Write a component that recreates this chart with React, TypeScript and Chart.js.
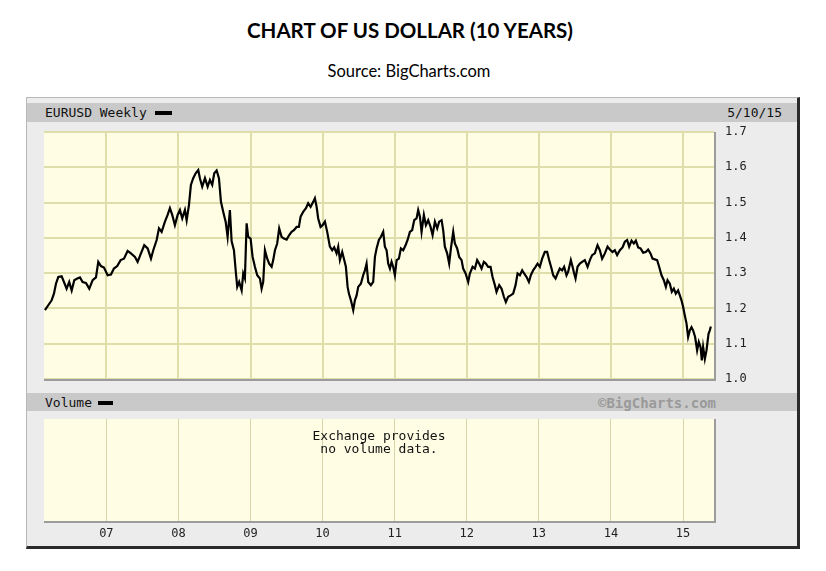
import React, { useEffect, useRef } from "react";
import { Chart, registerables } from "chart.js";
Chart.register(...registerables);

// Weekly EUR/USD closes (dates as decimal years)
const dates: number[] = [
  2006.148, 2006.194, 2006.241, 2006.273, 2006.301, 2006.333, 2006.38, 2006.412, 2006.449, 2006.485, 2006.519, 2006.555, 2006.596, 2006.634, 2006.671, 2006.717, 2006.763, 2006.81, 2006.856, 2006.888, 2006.925, 2006.967,
  2007.018, 2007.064, 2007.105, 2007.151, 2007.198, 2007.244, 2007.295, 2007.341, 2007.397, 2007.434, 2007.48, 2007.526, 2007.573, 2007.619, 2007.651, 2007.698, 2007.73, 2007.767, 2007.813, 2007.85, 2007.882, 2007.914, 2007.951, 2007.989,
  2008.021, 2008.053, 2008.09, 2008.114, 2008.146, 2008.173, 2008.205, 2008.239, 2008.275, 2008.298, 2008.33, 2008.368, 2008.405, 2008.437, 2008.469, 2008.497, 2008.53, 2008.562, 2008.59, 2008.621, 2008.655, 2008.682, 2008.714, 2008.738, 2008.77, 2008.798, 2008.816, 2008.843, 2008.877, 2008.899, 2008.922, 2008.946, 2008.968,
  2009.001, 2009.029, 2009.061, 2009.093, 2009.13, 2009.154, 2009.176, 2009.2, 2009.232, 2009.259, 2009.293, 2009.315, 2009.339, 2009.37, 2009.398, 2009.431, 2009.463, 2009.501, 2009.537, 2009.57, 2009.602, 2009.64, 2009.671, 2009.695, 2009.731, 2009.769, 2009.8, 2009.834, 2009.87, 2009.893, 2009.917, 2009.939, 2009.972,
  2010.0, 2010.032, 2010.064, 2010.101, 2010.133, 2010.161, 2010.194, 2010.217, 2010.24, 2010.272, 2010.3, 2010.323, 2010.347, 2010.365, 2010.393, 2010.425, 2010.448, 2010.472, 2010.494, 2010.531, 2010.563, 2010.587, 2010.61, 2010.633, 2010.67, 2010.702, 2010.726, 2010.749, 2010.781, 2010.809, 2010.841, 2010.864, 2010.888, 2010.91, 2010.934, 2010.957, 2010.979,
  2011.003, 2011.027, 2011.058, 2011.086, 2011.118, 2011.151, 2011.179, 2011.211, 2011.243, 2011.271, 2011.304, 2011.326, 2011.35, 2011.373, 2011.405, 2011.433, 2011.465, 2011.498, 2011.526, 2011.558, 2011.59, 2011.617, 2011.651, 2011.673, 2011.696, 2011.728, 2011.756, 2011.78, 2011.812, 2011.835, 2011.867, 2011.895, 2011.928, 2011.95, 2011.984,
  2012.02, 2012.043, 2012.081, 2012.113, 2012.144, 2012.172, 2012.205, 2012.237, 2012.265, 2012.297, 2012.33, 2012.358, 2012.39, 2012.413, 2012.45, 2012.483, 2012.515, 2012.542, 2012.574, 2012.608, 2012.644, 2012.677, 2012.705, 2012.737, 2012.769, 2012.796, 2012.83, 2012.862, 2012.889, 2012.921, 2012.954, 2012.982,
  2013.014, 2013.046, 2013.083, 2013.115, 2013.143, 2013.176, 2013.199, 2013.232, 2013.26, 2013.291, 2013.323, 2013.351, 2013.384, 2013.407, 2013.444, 2013.468, 2013.49, 2013.509, 2013.537, 2013.569, 2013.601, 2013.638, 2013.676, 2013.708, 2013.739, 2013.777, 2013.814, 2013.846, 2013.878, 2013.916, 2013.953, 2013.985,
  2014.022, 2014.054, 2014.086, 2014.124, 2014.161, 2014.193, 2014.225, 2014.253, 2014.286, 2014.318, 2014.346, 2014.378, 2014.411, 2014.447, 2014.484, 2014.516, 2014.549, 2014.577, 2014.609, 2014.641, 2014.669, 2014.702, 2014.734, 2014.762, 2014.785, 2014.817, 2014.845, 2014.873, 2014.9, 2014.932, 2014.956, 2014.979,
  2015.002, 2015.025, 2015.049, 2015.071, 2015.095, 2015.118, 2015.14, 2015.168, 2015.196, 2015.219, 2015.243, 2015.261, 2015.279, 2015.303, 2015.326, 2015.354, 2015.372, 2015.386,
];

const eurusd: number[] = [
  1.195, 1.209, 1.223, 1.242, 1.27, 1.289, 1.291, 1.275, 1.256, 1.275, 1.251, 1.28, 1.285, 1.288, 1.275, 1.272, 1.256, 1.28, 1.288, 1.332, 1.32, 1.316,
  1.294, 1.296, 1.313, 1.32, 1.337, 1.341, 1.363, 1.356, 1.346, 1.332, 1.356, 1.379, 1.37, 1.341, 1.365, 1.394, 1.427, 1.417, 1.446, 1.465, 1.484, 1.465, 1.436, 1.465,
  1.479, 1.455, 1.479, 1.45, 1.493, 1.55, 1.569, 1.583, 1.592, 1.569, 1.545, 1.569, 1.545, 1.564, 1.55, 1.583, 1.591, 1.569, 1.502, 1.474, 1.446, 1.403, 1.479, 1.39, 1.365, 1.299, 1.261, 1.275, 1.251, 1.299, 1.285, 1.441, 1.403,
  1.398, 1.346, 1.318, 1.294, 1.285, 1.256, 1.275, 1.365, 1.341, 1.327, 1.318, 1.337, 1.365, 1.384, 1.427, 1.403, 1.398, 1.395, 1.408, 1.417, 1.422, 1.431, 1.431, 1.46, 1.474, 1.484, 1.498, 1.488, 1.502, 1.512, 1.488, 1.455, 1.431,
  1.436, 1.446, 1.417, 1.375, 1.365, 1.373, 1.356, 1.375, 1.337, 1.36, 1.337, 1.318, 1.261, 1.242, 1.223, 1.195, 1.223, 1.237, 1.261, 1.27, 1.294, 1.308, 1.327, 1.275, 1.266, 1.275, 1.346, 1.37, 1.394, 1.403, 1.417, 1.375, 1.365, 1.327, 1.313, 1.332, 1.318,
  1.294, 1.337, 1.341, 1.37, 1.365, 1.379, 1.394, 1.417, 1.422, 1.45, 1.455, 1.479, 1.46, 1.417, 1.465, 1.436, 1.45, 1.431, 1.408, 1.446, 1.427, 1.446, 1.45, 1.422, 1.375, 1.356, 1.327, 1.37, 1.417, 1.384, 1.37, 1.346, 1.337, 1.313, 1.299,
  1.275, 1.299, 1.318, 1.313, 1.337, 1.327, 1.313, 1.332, 1.327, 1.318, 1.318, 1.289, 1.266, 1.247, 1.266, 1.256, 1.233, 1.218, 1.233, 1.237, 1.242, 1.266, 1.299, 1.294, 1.308, 1.299, 1.289, 1.275, 1.294, 1.308, 1.318, 1.327,
  1.318, 1.341, 1.36, 1.36, 1.337, 1.313, 1.294, 1.285, 1.299, 1.313, 1.308, 1.318, 1.294, 1.304, 1.337, 1.318, 1.299, 1.285, 1.318, 1.327, 1.332, 1.337, 1.318, 1.337, 1.351, 1.356, 1.379, 1.365, 1.341, 1.356, 1.375, 1.367,
  1.36, 1.365, 1.351, 1.365, 1.373, 1.389, 1.394, 1.375, 1.392, 1.384, 1.392, 1.373, 1.37, 1.358, 1.36, 1.367, 1.356, 1.341, 1.339, 1.337, 1.318, 1.294, 1.28, 1.261, 1.28, 1.27, 1.247, 1.256, 1.242, 1.251, 1.237, 1.223,
  1.204, 1.18, 1.157, 1.119, 1.138, 1.147, 1.138, 1.119, 1.081, 1.105, 1.091, 1.053, 1.091, 1.057, 1.081, 1.128, 1.138, 1.149,
];

const yearTicks = [2007, 2008, 2009, 2010, 2011, 2012, 2013, 2014, 2015];
const yearLabels = ["07", "08", "09", "10", "11", "12", "13", "14", "15"];
const priceTicks = [1.0, 1.1, 1.2, 1.3, 1.4, 1.5, 1.6, 1.7];
const X_MIN = 2006.135;
const X_MAX = 2015.43;

const PLOT_BG = "#fffee4";
const GRID = "#dedeaa";
const MONO = "'DejaVu Sans Mono', monospace";

function plotBg(extraText?: string[]) {
  return {
    id: "plotBg",
    beforeDraw(chart: any) {
      const { ctx, chartArea: a } = chart;
      ctx.save();
      ctx.fillStyle = PLOT_BG;
      ctx.fillRect(a.left, a.top, a.right - a.left, a.bottom - a.top);
      ctx.restore();
    },
    afterDraw(chart: any) {
      const { ctx, chartArea: a } = chart;
      ctx.save();
      ctx.fillStyle = "#9c9c9c";
      ctx.fillRect(a.left, a.bottom, a.right - a.left + 2, 2);
      ctx.fillRect(a.right, a.top, 2, a.bottom - a.top + 2);
      if (extraText) {
        ctx.fillStyle = "#111";
        ctx.font = "13px " + MONO;
        ctx.textAlign = "center";
        ctx.textBaseline = "middle";
        const cx = (a.left + a.right) / 2;
        extraText.forEach((t, i) => ctx.fillText(t, cx, a.top + 18 + i * 13));
      }
      ctx.restore();
    },
  };
}

const noPad = (s: any) => {
  s.paddingTop = 0;
  s.paddingBottom = 0;
  s.paddingLeft = 0;
  s.paddingRight = 0;
};

export default function App() {
  const mainRef = useRef<HTMLCanvasElement>(null);
  const volRef = useRef<HTMLCanvasElement>(null);

  useEffect(() => {
    const main = new Chart(mainRef.current!, {
      type: "line",
      data: {
        datasets: [
          {
            data: dates.map((t, i) => ({ x: t, y: eurusd[i] })),
            borderColor: "#000",
            borderWidth: 2.2,
            pointRadius: 0,
            tension: 0,
            fill: false,
          },
        ],
      },
      options: {
        animation: false,
        responsive: false,
        maintainAspectRatio: false,
        layout: { padding: { left: 17, top: 10, right: 0, bottom: 11 } },
        plugins: { legend: { display: false }, tooltip: { enabled: false } },
        scales: {
          x: {
            type: "linear",
            min: X_MIN,
            max: X_MAX,
            afterBuildTicks: (s: any) => {
              s.ticks = yearTicks.map((v) => ({ value: v }));
            },
            afterFit: (s: any) => {
              s.height = 0;
              noPad(s);
            },
            ticks: { display: false },
            grid: { color: GRID, lineWidth: 2, drawTicks: false },
            border: { display: false },
          },
          y: {
            position: "right",
            min: 1.0,
            max: 1.7,
            afterBuildTicks: (s: any) => {
              s.ticks = priceTicks.map((v) => ({ value: v }));
            },
            afterFit: (s: any) => {
              s.width = 84;
              noPad(s);
            },
            ticks: {
              padding: 11,
              color: "#222",
              font: { family: MONO, size: 12 },
              callback: (v: any) => Number(v).toFixed(1),
            },
            grid: { color: GRID, lineWidth: 2, drawTicks: false },
            border: { display: false },
          },
        },
      },
      plugins: [plotBg()],
    });

    const vol = new Chart(volRef.current!, {
      type: "line",
      data: { datasets: [] },
      options: {
        animation: false,
        responsive: false,
        maintainAspectRatio: false,
        layout: { padding: { left: 17, top: 8, right: 84, bottom: 0 } },
        plugins: { legend: { display: false }, tooltip: { enabled: false } },
        scales: {
          x: {
            type: "linear",
            min: X_MIN,
            max: X_MAX,
            afterBuildTicks: (s: any) => {
              s.ticks = yearTicks.map((v) => ({ value: v }));
            },
            afterFit: (s: any) => {
              s.height = 25;
              noPad(s);
            },
            ticks: {
              padding: 6,
              color: "#222",
              font: { family: MONO, size: 12 },
              maxRotation: 0,
              autoSkip: false,
              callback: (v: any) => yearLabels[yearTicks.indexOf(Number(v))] ?? "",
            },
            grid: { color: "#d6d6aa", lineWidth: 1, drawTicks: false },
            border: { display: false },
          },
          y: { display: false, min: 0, max: 1 },
        },
      },
      plugins: [plotBg(["Exchange provides", "no volume data."])],
    });

    return () => {
      main.destroy();
      vol.destroy();
    };
  }, []);

  const abs = (s: React.CSSProperties): React.CSSProperties => ({ position: "absolute", ...s });

  return (
    <div style={abs({ left: 0, top: 0, width: 826, height: 571, background: "#fff", overflow: "hidden" })}>
      <div style={abs({ left: 0, top: 18, width: 820, textAlign: "center", font: "700 20.5px Lato, 'Open Sans', sans-serif", color: "#000" })}>
        CHART OF US DOLLAR (10 YEARS)
      </div>
      <div style={abs({ left: 0, top: 61, width: 818, textAlign: "center", font: "16.5px Lato, 'Open Sans', sans-serif", color: "#000" })}>
        Source: BigCharts.com
      </div>

      <div
        style={abs({
          left: 26,
          top: 97,
          width: 774,
          height: 452,
          boxSizing: "border-box",
          background: "#ececec",
          borderTop: "1px solid #b8b8b8",
          borderLeft: "1px solid #b8b8b8",
          borderRight: "3px solid #2a2a2a",
          borderBottom: "3px solid #2a2a2a",
        })}
      />

      <div style={abs({ left: 27, top: 103, width: 770, height: 19, background: "#c9c9c9" })} />
      <div style={abs({ left: 45, top: 105, height: 19, lineHeight: "19px", font: "13px " + MONO, color: "#111" })}>EURUSD Weekly</div>
      <div style={abs({ left: 155, top: 111, width: 17, height: 4, background: "#000" })} />
      <div style={abs({ left: 700, top: 105, width: 82, height: 19, lineHeight: "19px", textAlign: "right", font: "13px " + MONO, color: "#111" })}>5/10/15</div>

      <canvas ref={mainRef} width={771} height={268} style={abs({ left: 27, top: 122, width: 771, height: 268 })} />

      <div style={abs({ left: 27, top: 393, width: 770, height: 18, background: "#c9c9c9" })} />
      <div style={abs({ left: 45, top: 395, height: 18, lineHeight: "18px", font: "13px " + MONO, color: "#111" })}>Volume</div>
      <div style={abs({ left: 98, top: 401, width: 15, height: 4, background: "#000" })} />
      <div style={abs({ left: 555, top: 395, width: 161, height: 18, lineHeight: "18px", textAlign: "right", font: "700 14px " + MONO, color: "#9a9a9a" })}>©BigCharts.com</div>

      <canvas ref={volRef} width={771} height={135} style={abs({ left: 27, top: 411, width: 771, height: 135 })} />
    </div>
  );
}
